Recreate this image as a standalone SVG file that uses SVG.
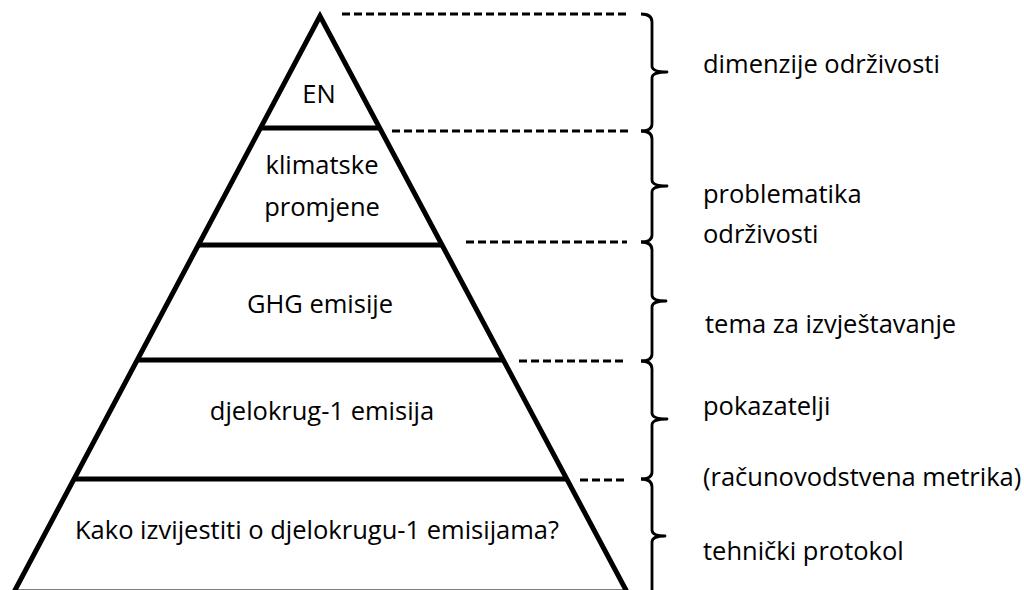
<svg xmlns="http://www.w3.org/2000/svg" width="1024" height="590" viewBox="0 0 1024 590">
<style>
text{font-family:"Open Sans","Liberation Sans",sans-serif;font-size:25.5px;fill:#000}
.c{text-anchor:middle}
.edge{fill:none;stroke:#000;stroke-width:5;stroke-linejoin:miter}
.tier{stroke:#000;stroke-width:5}
.dash{stroke:#000;stroke-width:2.8;stroke-dasharray:8 4;fill:none}
.brace{fill:none;stroke:#000;stroke-width:2.8;stroke-linejoin:round}
</style>
<rect width="1024" height="590" fill="#fff"/>
<g id="pyramid">
<polygon class="edge" points="320,16 14,592 627,592"/>
<line class="tier" x1="260" y1="128" x2="380" y2="128"/>
<line class="tier" x1="198" y1="245" x2="442" y2="245"/>
<line class="tier" x1="136" y1="360" x2="504" y2="360"/>
<line class="tier" x1="73" y1="479" x2="567" y2="479"/>
</g>
<g id="tier-en"><text class="c" x="319" y="103">EN</text></g>
<g id="tier-klimatske"><text class="c" x="322" y="174">klimatske</text><text class="c" x="322" y="216">promjene</text></g>
<g id="tier-ghg"><text class="c" x="320" y="313">GHG emisije</text></g>
<g id="tier-djelokrug"><text class="c" x="322" y="420">djelokrug-1 emisija</text></g>
<g id="tier-kako"><text class="c" x="317" y="539">Kako izvijestiti o djelokrugu-1 emisijama?</text></g>
<g id="connectors">
<line class="dash" x1="342" y1="14" x2="627" y2="14"/>
<line class="dash" x1="392" y1="131" x2="628" y2="131"/>
<line class="dash" x1="466" y1="242" x2="627" y2="242"/>
<line class="dash" x1="519" y1="361" x2="623" y2="361"/>
<line class="dash" x1="580" y1="480" x2="624" y2="480"/>
</g>
<g id="braces">
<path class="brace" d="M641,14 Q652,14 652,22 L652,66 Q652,72 667,72 Q652,72 652,78 L652,124 Q652,131 641,131"/>
<path class="brace" d="M641,131 Q652,131 652,139 L652,180 Q652,186 667,186 Q652,186 652,192 L652,235 Q652,242 641,242"/>
<path class="brace" d="M641,242 Q652,242 652,250 L652,295 Q652,301 666,301 Q652,301 652,307 L652,354 Q652,361 641,361"/>
<path class="brace" d="M641,361 Q652,361 652,369 L652,413 Q652,419 667,419 Q652,419 652,425 L652,472 Q652,479 641,479"/>
<path class="brace" d="M641,479 Q652,479 652,487 L652,530 Q652,536 665,536 Q652,536 652,542 L652,600"/>
</g>
<g id="labels">
<text x="703" y="73">dimenzije održivosti</text>
<text x="703" y="203">problematika</text>
<text x="703" y="243">održivosti</text>
<text x="705" y="333">tema za izvještavanje</text>
<text x="703" y="415">pokazatelji</text>
<text x="703" y="486">(računovodstvena metrika)</text>
<text x="703" y="560">tehnički protokol</text>
</g>
</svg>
